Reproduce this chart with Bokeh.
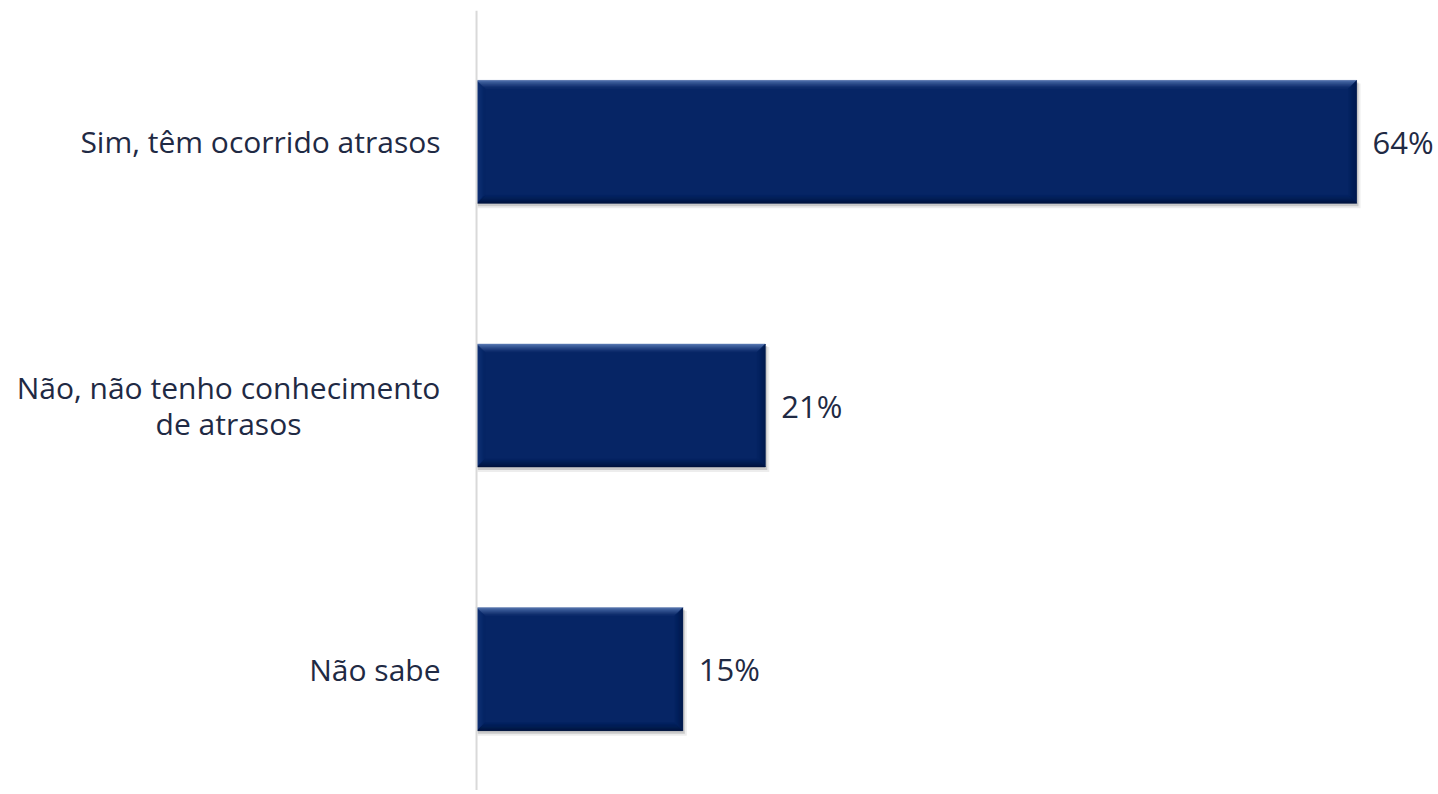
from bokeh.plotting import figure
from bokeh.models import Range1d, Span
from bokeh.core.properties import value
from bokeh.embed import file_html
from bokeh.resources import INLINE

# ---- data ----
categories = ["Sim, têm ocorrido atrasos",
              "Não, não tenho conhecimento\nde atrasos",
              "Não sabe"]
values = [64, 21, 15]
value_labels = ["64%", "21%", "15%"]

# ---- layout ----
W, H = 1438, 790
TOP = 10
x_start, x_end = -34.62, 69.96
y_start, y_end = -0.460, 2.498
TEXT = "#1f2a44"
BAR = "#062565"
FONT = "Open Sans"

ypos = [len(categories) - 1 - i for i in range(len(categories))]

p = figure(width=W, height=H, output_backend="svg", toolbar_location=None,
           x_range=Range1d(x_start, x_end), y_range=Range1d(y_start, y_end),
           x_axis_location=None, y_axis_location=None,
           min_border_left=0, min_border_top=TOP,
           min_border_bottom=0, min_border_right=0)
p.grid.visible = False
p.outline_line_color = None
p.background_fill_color = "white"
p.border_fill_color = "white"

# category axis line
p.add_layout(Span(location=0, dimension="height", line_color="#d9d9d9", line_width=2))

px_x = W / (x_end - x_start)
px_y = (H - TOP) / (y_end - y_start)
dx, dy = 1 / px_x, 1 / px_y
h = 0.466 / 2

# shadows
p.quad(left=[dx] * 3, right=[v + 4 * dx for v in values],
       top=[y + h - 3 * dy for y in ypos], bottom=[y - h - 5 * dy for y in ypos],
       fill_color="#000000", fill_alpha=0.07, line_color=None)
p.quad(left=[dx] * 3, right=[v + 2 * dx for v in values],
       top=[y + h - 2 * dy for y in ypos], bottom=[y - h - 3 * dy for y in ypos],
       fill_color="#000000", fill_alpha=0.15, line_color=None)

# main bars
p.quad(left=[0] * 3, right=values, top=[y + h for y in ypos], bottom=[y - h for y in ypos],
       fill_color=BAR, line_color=None)


def hx(c):
    c = c.lstrip("#")
    return [int(c[i:i + 2], 16) for i in (0, 2, 4)]


def mix(c1, c2, t):
    a, b = hx(c1), hx(c2)
    return "#%02x%02x%02x" % tuple(round(a[i] + (b[i] - a[i]) * t) for i in range(3))


edges = {"top": "#5878b3", "bottom": "#01143c", "left": "#17377a", "right": "#021a4c"}
N = 8
xs, ys, cols = [], [], []
for v, y in zip(values, ypos):
    x0, x1, y0, y1 = 0, v, y - h, y + h
    for k in range(N):
        a, b = k, k + 1
        t = (k / N) ** 0.8
        xs.append([x0 + a * dx, x1 - a * dx, x1 - b * dx, x0 + b * dx])
        ys.append([y1 - a * dy, y1 - a * dy, y1 - b * dy, y1 - b * dy])
        cols.append(mix(edges["top"], BAR, t))
        xs.append([x0 + a * dx, x1 - a * dx, x1 - b * dx, x0 + b * dx])
        ys.append([y0 + a * dy, y0 + a * dy, y0 + b * dy, y0 + b * dy])
        cols.append(mix(edges["bottom"], BAR, t))
        xs.append([x0 + a * dx, x0 + b * dx, x0 + b * dx, x0 + a * dx])
        ys.append([y1 - a * dy, y1 - b * dy, y0 + b * dy, y0 + a * dy])
        cols.append(mix(edges["left"], BAR, t))
        xs.append([x1 - a * dx, x1 - b * dx, x1 - b * dx, x1 - a * dx])
        ys.append([y1 - a * dy, y1 - b * dy, y0 + b * dy, y0 + a * dy])
        cols.append(mix(edges["right"], BAR, t))
p.patches(xs=xs, ys=ys, fill_color=cols, line_color=cols, line_width=0.5)

# category labels (single-line right aligned; wrapped label centred as a block)
GAP = 36          # px between label block and axis line
WRAP_W = 424      # px width of the first line of a wrapped label
for c, y in zip(categories, ypos):
    multi = "\n" in c
    p.text(x=[0], y=[y], text=[c],
           x_offset=-(GAP + WRAP_W / 2) if multi else -GAP,
           text_align="center" if multi else "right", text_baseline="middle",
           text_line_height=0.9,
           text_font=value(FONT), text_font_size="30px", text_color=TEXT)

# value labels
p.text(x=values, y=ypos, text=value_labels, x_offset=16,
       text_align="left", text_baseline="middle",
       text_font=value(FONT), text_font_size="31px", text_color=TEXT)

open("out.html", "w").write(file_html(p, INLINE))
